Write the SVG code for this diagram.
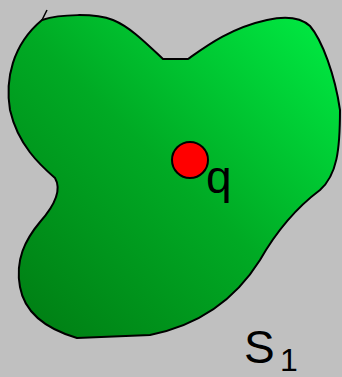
<svg xmlns="http://www.w3.org/2000/svg" width="342" height="377" viewBox="0 0 342 377">
<defs>
<linearGradient id="g" x1="0" y1="1" x2="1" y2="0">
<stop offset="0" stop-color="#007a12"/>
<stop offset="0.5" stop-color="#00aa24"/>
<stop offset="1" stop-color="#00ee44"/>
</linearGradient>
<style>
.t{font-family:"Liberation Sans",Arial,sans-serif;fill:#000}
</style>
</defs>
<rect width="342" height="377" fill="#c0c0c0"/>
<g id="S1">
<path d="M42,20 C60,14 95,13 113,20 C130,27 145,42 163,59 L188,59 C205,47 230,28 267,20 C285,16 300,17 310,26 C322,40 335,75 340,110 C340,150 337,175 320,190 C300,205 280,225 260,260 C235,300 200,325 150,335 L77,338 C50,330 25,315 20,287 C15,260 25,240 40,222 C55,205 62,190 55,178 C40,165 18,145 10,110 C5,80 12,45 42,20 Z" fill="url(#g)" stroke="#000" stroke-width="2"/>
<path d="M42,20 L47,10" stroke="#000" stroke-width="1.5" fill="none"/>
<text class="t" x="244" y="363" font-size="46">S</text>
<text class="t" x="280" y="371" font-size="32">1</text>
</g>
<g id="q">
<circle cx="190" cy="160" r="18" fill="#ff0000" stroke="#000" stroke-width="2"/>
<text class="t" x="206" y="193" font-size="46">q</text>
</g>
</svg>
